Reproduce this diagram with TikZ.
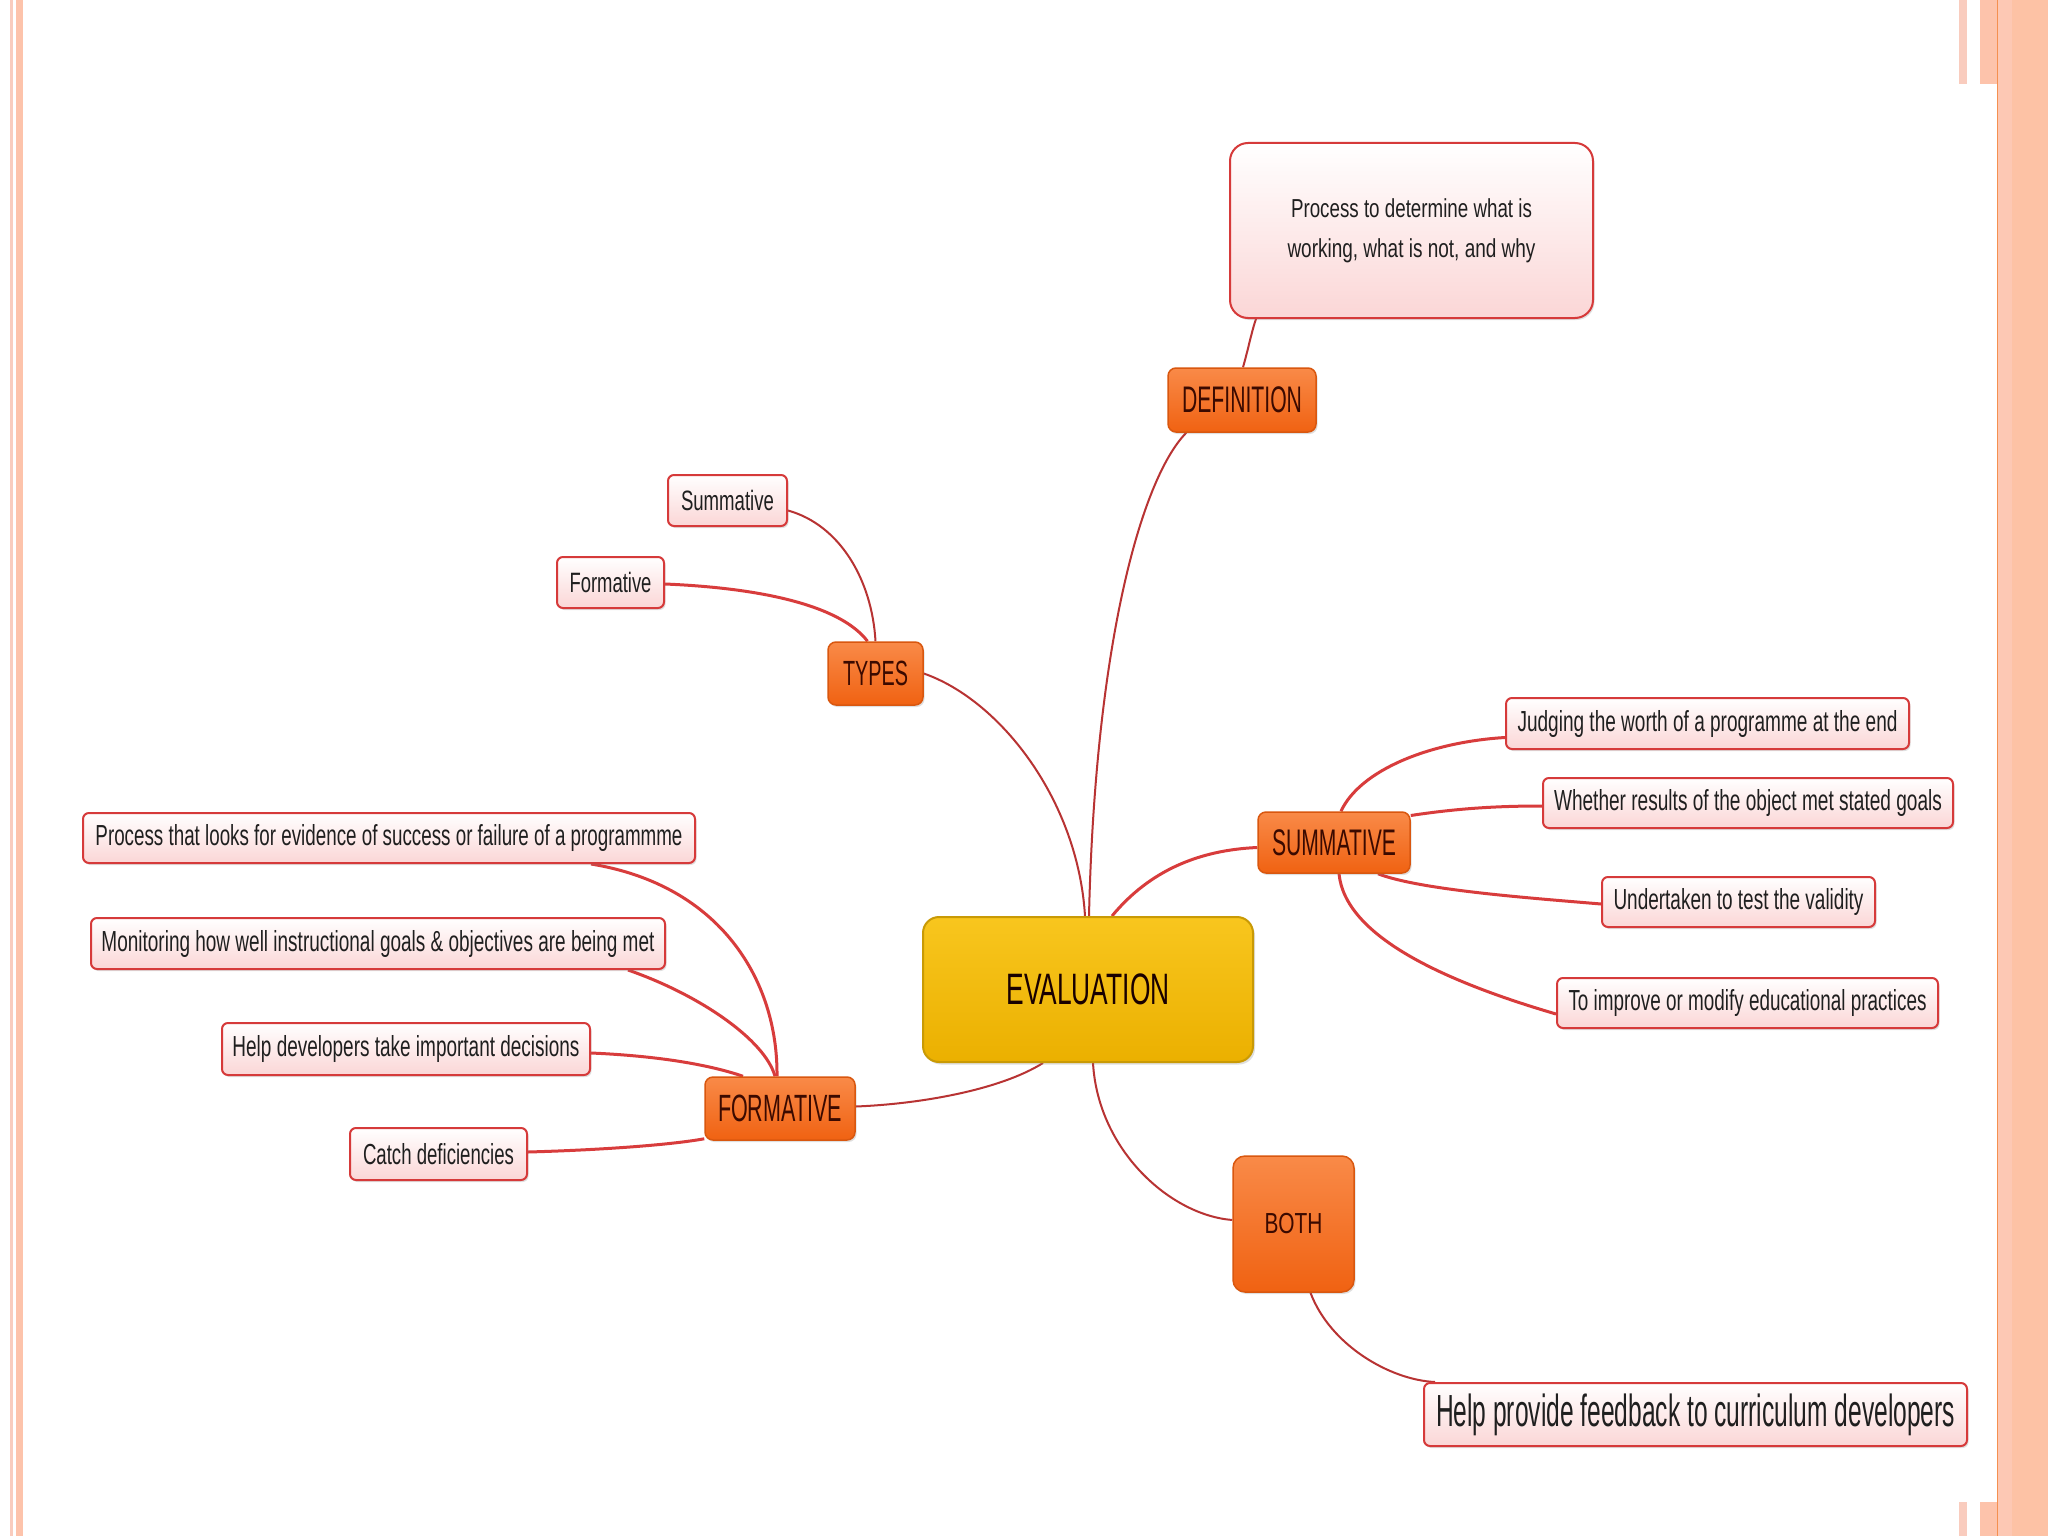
\documentclass[tikz,border=0pt]{standalone}
\usepackage{fontspec}
\setmainfont{Liberation Sans}
\usetikzlibrary{shadows}
\newcommand\fitw[2]{\resizebox{#1}{\height}{#2}}
\definecolor{leafB}{HTML}{D63A3A}
\definecolor{leafF}{HTML}{FBD6D6}
\definecolor{catB}{HTML}{D9570F}
\definecolor{catT}{HTML}{F98A48}
\definecolor{catF}{HTML}{F06212}
\definecolor{catText}{HTML}{3B0A00}
\definecolor{evalT}{HTML}{F8C61E}
\definecolor{evalF}{HTML}{EBB000}
\definecolor{evalB}{HTML}{C99A05}
\definecolor{lnk}{HTML}{D83C3C}
\definecolor{stripeA}{HTML}{FDC3AB}
\definecolor{stripeB}{HTML}{F9CCBE}
\definecolor{stripeC}{HTML}{FDC8B4}
\definecolor{stripeD}{HTML}{F59050}
\pgfdeclarelayer{bg}
\pgfdeclarelayer{lines}
\pgfsetlayers{bg,lines,main}
\begin{document}
\begin{tikzpicture}[x=1pt,y=-1pt,
  leaf/.style={draw=leafB, line width=2pt, rounded corners=6pt, top color=white, bottom color=leafF,
    inner sep=0pt, text=black!88, font=\fontsize{29pt}{29pt}\selectfont,
    drop shadow={shadow xshift=1.5pt, shadow yshift=-2pt, opacity=0.25}},
  cat/.style={draw=catB, line width=1.5pt, rounded corners=8pt, top color=catT, bottom color=catF,
    inner sep=0pt, text=catText, font=\fontsize{37pt}{37pt}\selectfont,
    drop shadow={shadow xshift=1.5pt, shadow yshift=-2pt, opacity=0.25}},
  evalbox/.style={draw=evalB, line width=2pt, rounded corners=16pt, top color=evalT, bottom color=evalF,
    inner sep=0pt, text=black!90!red, font=\fontsize{44pt}{44pt}\selectfont,
    drop shadow={shadow xshift=2pt, shadow yshift=-2.5pt, opacity=0.25}},
  con/.style={draw=lnk, line width=3pt},
  conthin/.style={draw=lnk!85!black, line width=2pt}
]
% background
\begin{pgfonlayer}{bg}
\fill[white] (0,0) rectangle (2048,1536);
\fill[stripeB] (10,0) rectangle (13,1536);
\fill[stripeA] (16,0) rectangle (23,1536);
\fill[stripeC] (1997,0) rectangle (2048,1536);
\fill[stripeC!92!orange] (2012,0) rectangle (2048,1536);
\fill[stripeD] (1996.5,0) rectangle (1998,1536);
\fill[stripeB] (1959,0) rectangle (1967,84);
\fill[stripeA] (1980,0) rectangle (1997,84);
\fill[stripeB] (1959,1502) rectangle (1967,1536);
\fill[stripeA] (1980,1502) rectangle (1997,1536);
\end{pgfonlayer}
\useasboundingbox (0,0) rectangle (2048,1536);

% nodes
\node[leaf, minimum width=363pt, minimum height=175pt, rounded corners=18pt,
  font=\fontsize{26pt}{40pt}\selectfont, align=center] (defbox) at (1411.5,230.5)
  {\fitw{241pt}{Process to determine what is}\\\fitw{248pt}{working, what is not, and why}};
\node[cat, minimum width=148pt, minimum height=64pt] (def) at (1242,400) {\fitw{120pt}{DEFINITION}};
\node[cat, minimum width=95pt, minimum height=63pt, font=\fontsize{35pt}{35pt}\selectfont] (types) at (875.5,673.5) {\fitw{65pt}{TYPES}};
\node[leaf, minimum width=119pt, minimum height=51pt, font=\fontsize{28pt}{28pt}\selectfont] (sumL) at (727.5,500.5) {\fitw{93pt}{Summative}};
\node[leaf, minimum width=107pt, minimum height=51pt, font=\fontsize{28pt}{28pt}\selectfont] (formL) at (610.5,582.5) {\fitw{82pt}{Formative}};
\node[cat, minimum width=152pt, minimum height=61pt] (summ) at (1334,842.5) {\fitw{124pt}{SUMMATIVE}};
\node[leaf, minimum width=403pt, minimum height=51pt] (judg) at (1707.5,723.5) {\fitw{380pt}{Judging the worth of a programme at the end}};
\node[leaf, minimum width=410pt, minimum height=50pt] (wheth) at (1748,803) {\fitw{388pt}{Whether results of the object met stated goals}};
\node[leaf, minimum width=273pt, minimum height=50pt] (under) at (1738.5,902) {\fitw{250pt}{Undertaken to test the validity}};
\node[leaf, minimum width=381pt, minimum height=50pt] (impr) at (1747.5,1003) {\fitw{358pt}{To improve or modify educational practices}};
\node[leaf, minimum width=612pt, minimum height=50pt] (proc) at (389,838) {\fitw{587pt}{Process that looks for evidence of success or failure of a programmme}};
\node[leaf, minimum width=574pt, minimum height=51pt] (mon) at (378,943.5) {\fitw{553pt}{Monitoring how well instructional goals \& objectives are being met}};
\node[leaf, minimum width=368pt, minimum height=52pt] (help) at (406,1049) {\fitw{347pt}{Help developers take important decisions}};
\node[leaf, minimum width=177pt, minimum height=52pt] (catch) at (438.5,1154) {\fitw{151pt}{Catch deficiencies}};
\node[cat, minimum width=150pt, minimum height=63pt, font=\fontsize{38pt}{38pt}\selectfont] (form) at (780,1108.5) {\fitw{124pt}{FORMATIVE}};
\node[evalbox, minimum width=330pt, minimum height=145pt] (eval) at (1088,989.5) {\fitw{163pt}{EVALUATION}};
\node[cat, minimum width=121pt, minimum height=136pt, rounded corners=12pt, font=\fontsize{29pt}{29pt}\selectfont] (both) at (1293.5,1224) {\fitw{58pt}{BOTH}};
\node[leaf, minimum width=543pt, minimum height=63pt, font=\fontsize{45pt}{45pt}\selectfont] (fb) at (1695.5,1414.5) {\fitw{519pt}{Help provide feedback to curriculum developers}};

% connectors
\begin{pgfonlayer}{lines}
\draw[conthin] ([xshift=1pt]eval.north) .. controls (1095,650) and (1140,480) .. ([xshift=19pt]def.south west);
\draw[conthin] (types.east) .. controls (1000,700) and (1078,800) .. ([xshift=-3pt]eval.north);
\draw[con] ([xshift=24pt]eval.north) .. controls (1150,870) and (1200,850) .. ([yshift=-5pt]summ.west);
\draw[conthin] ([xshift=-45pt]eval.south) .. controls (1000,1090) and (920,1104) .. ([yshift=2pt]form.east);
\draw[conthin] ([xshift=5pt]eval.south) .. controls (1098,1150) and (1170,1215) .. ([yshift=4pt]both.west);
\draw[conthin] ([xshift=17pt]both.south) .. controls (1330,1345) and (1390,1380) .. ([xshift=12pt]fb.north west);
\draw[conthin] ([xshift=1pt]def.north) .. controls (1248,350) and (1252,330) .. ([xshift=27pt]defbox.south west);
\draw[conthin] (types.north) .. controls (872,580) and (840,525) .. ([yshift=-10pt]sumL.east);
\draw[con] ([xshift=-8pt]types.north) .. controls (840,605) and (760,588) .. ([yshift=-1.5pt]formL.east);
\draw[con] ([xshift=7pt]summ.north) .. controls (1360,770) and (1430,742) .. ([yshift=-14pt]judg.west);
\draw[con] ([yshift=27pt]summ.east) .. controls (1460,808) and (1500,806) .. ([yshift=-3pt]wheth.west);
\draw[con] ([xshift=44pt]summ.south) .. controls (1420,890) and (1530,898) .. ([yshift=-2pt]under.west);
\draw[con] ([xshift=5pt]summ.south) .. controls (1345,935) and (1440,980) .. ([yshift=-11pt]impr.west);
\draw[con] ([xshift=202pt]proc.south) .. controls (720,885) and (778,980) .. ([xshift=-3pt]form.north);
\draw[con] ([xshift=250pt]mon.south) .. controls (700,995) and (765,1040) .. ([xshift=-5pt]form.north);
\draw[con] ([yshift=-4pt]help.east) .. controls (660,1056) and (710,1065) .. ([xshift=-37pt]form.north);
\draw[con] ([yshift=2pt]catch.east) .. controls (600,1150) and (670,1145) .. ([yshift=2pt]form.south west);
\end{pgfonlayer}
\end{tikzpicture}
\end{document}
